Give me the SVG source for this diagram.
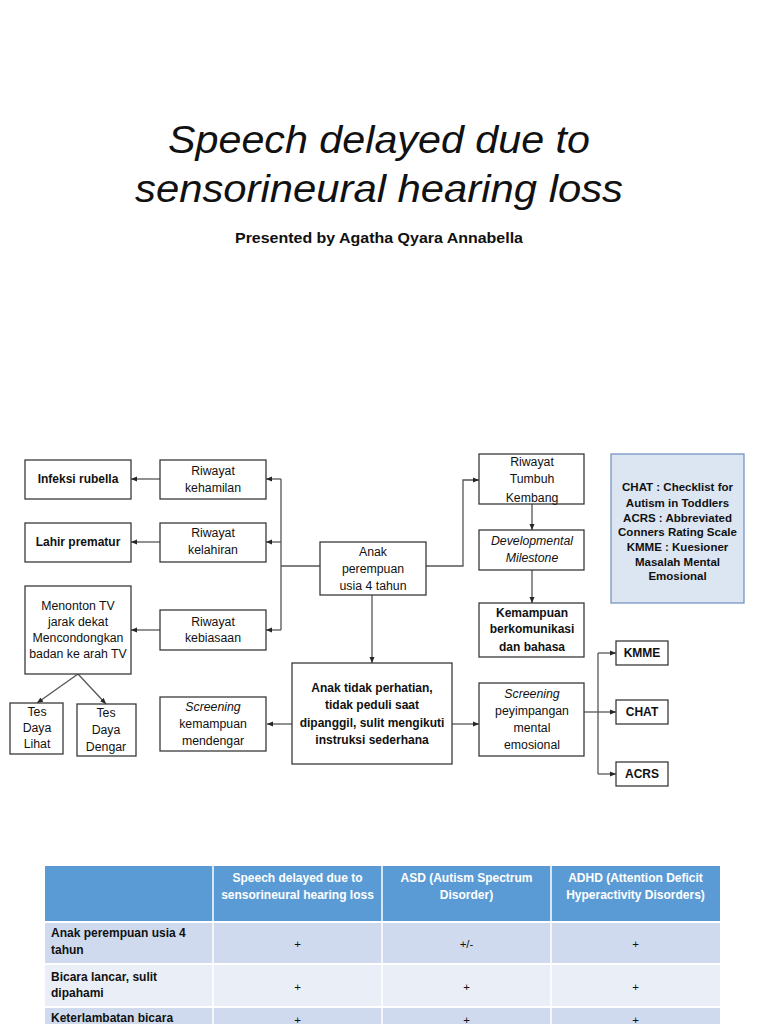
<svg xmlns="http://www.w3.org/2000/svg" width="768" height="1024" viewBox="0 0 768 1024">
<defs>
<marker id="ah" markerUnits="userSpaceOnUse" markerWidth="6" markerHeight="6" viewBox="0 0 6 6" refX="6" refY="3" orient="auto">
<path d="M0,0.5 L6,3 L0,5.5 Z" fill="#262626"/>
</marker>
<style>
.bx{fill:#fff;stroke:#3a3a3a;stroke-width:1.3}
.t{font-family:"Liberation Sans",Arial,sans-serif;font-size:12.3px;fill:#111;text-anchor:middle}
.b{font-weight:bold;font-size:12px}
.i{font-style:italic}
.ln{fill:none;stroke:#555;stroke-width:1.3}
.ar{fill:none;stroke:#555;stroke-width:1.3;marker-end:url(#ah)}
.th{font-family:"Liberation Sans",Arial,sans-serif;font-size:12px;font-weight:bold;fill:#fff;text-anchor:middle}
.td{font-family:"Liberation Sans",Arial,sans-serif;font-size:12px;font-weight:bold;fill:#111}
.tc{font-family:"Liberation Sans",Arial,sans-serif;font-size:11.5px;fill:#111;text-anchor:middle}
.lg{font-family:"Liberation Sans",Arial,sans-serif;font-size:11.5px;font-weight:bold;fill:#111;text-anchor:middle}
</style>
</defs>
<rect width="768" height="1024" fill="#fff"/>

<g id="title">
<text x="379" y="153" font-family="'Liberation Sans',Arial,sans-serif" font-size="39" font-style="italic" fill="#111" text-anchor="middle" textLength="422" lengthAdjust="spacingAndGlyphs">Speech delayed due to</text>
<text x="379" y="202" font-family="'Liberation Sans',Arial,sans-serif" font-size="39" font-style="italic" fill="#111" text-anchor="middle" textLength="488" lengthAdjust="spacingAndGlyphs">sensorineural hearing loss</text>
<text x="379" y="243" font-family="'Liberation Sans',Arial,sans-serif" font-size="15" font-weight="bold" fill="#111" text-anchor="middle" textLength="288" lengthAdjust="spacingAndGlyphs">Presented by Agatha Qyara Annabella</text>
</g>

<g id="connectors">
<path class="ln" d="M320 566 H281 M281 479 V630"/>
<path class="ar" d="M281 479 H266"/>
<path class="ar" d="M281 542 H266"/>
<path class="ar" d="M281 630 H266"/>
<path class="ar" d="M160 479 H131"/>
<path class="ar" d="M160 542 H131"/>
<path class="ar" d="M160 630 H131"/>
<path class="ar" d="M78 674 L37 703"/>
<path class="ar" d="M78 674 L106 704"/>
<path class="ar" d="M426 566 H463 V480 H479"/>
<path class="ar" d="M532 504 V530"/>
<path class="ar" d="M532 570 V603"/>
<path class="ar" d="M372 595 V663"/>
<path class="ar" d="M292 724 H267"/>
<path class="ar" d="M452 724 H479"/>
<path class="ar" d="M584 712 H616"/>
<path class="ln" d="M598 653 V774"/>
<path class="ar" d="M598 653 H616"/>
<path class="ar" d="M598 774 H616"/>
</g>

<g id="infeksi"><rect class="bx" x="25" y="460" width="106" height="39"/><text class="t b" x="78" y="483">Infeksi rubella</text></g>
<g id="kehamilan"><rect class="bx" x="160" y="460" width="106" height="39"/><text class="t" x="213" y="475">Riwayat</text><text class="t" x="213" y="492">kehamilan</text></g>
<g id="prematur"><rect class="bx" x="25" y="523" width="106" height="39"/><text class="t b" x="78" y="546">Lahir prematur</text></g>
<g id="kelahiran"><rect class="bx" x="160" y="523" width="106" height="39"/><text class="t" x="213" y="537">Riwayat</text><text class="t" x="213" y="554">kelahiran</text></g>
<g id="menonton"><rect class="bx" x="25" y="586" width="106" height="88"/>
<text class="t" font-size="10.7" x="78" y="610">Menonton TV</text><text class="t" font-size="10.7" x="78" y="626">jarak dekat</text><text class="t" font-size="10.7" x="78" y="642">Mencondongkan</text><text class="t" font-size="10.7" x="78" y="658">badan ke arah TV</text></g>
<g id="kebiasaan"><rect class="bx" x="160" y="610" width="106" height="40"/><text class="t" x="213" y="626">Riwayat</text><text class="t" x="213" y="642">kebiasaan</text></g>
<g id="lihat"><rect class="bx" x="10" y="703" width="53" height="51"/><text class="t" font-size="10.5" x="37" y="716">Tes</text><text class="t" font-size="10.5" x="37" y="732">Daya</text><text class="t" font-size="10.5" x="37" y="748">Lihat</text></g>
<g id="dengar"><rect class="bx" x="77" y="704" width="59" height="52"/><text class="t" font-size="12.5" x="106" y="717">Tes</text><text class="t" font-size="12.5" x="106" y="734">Daya</text><text class="t" font-size="12.5" x="106" y="751">Dengar</text></g>
<g id="screening1"><rect class="bx" x="160" y="697" width="106" height="54"/><text class="t i" x="213" y="711">Screening</text><text class="t" x="213" y="728">kemampuan</text><text class="t" x="213" y="745">mendengar</text></g>

<g id="anak"><rect class="bx" x="320" y="542" width="106" height="53"/><text class="t" x="373" y="556">Anak</text><text class="t" x="373" y="573">perempuan</text><text class="t" x="373" y="590">usia 4 tahun</text></g>
<g id="perhatian"><rect class="bx" x="292" y="663" width="160" height="101"/>
<text class="t b" x="372" y="692">Anak tidak perhatian,</text><text class="t b" x="372" y="709">tidak peduli saat</text><text class="t b" x="372" y="727">dipanggil, sulit mengikuti</text><text class="t b" x="372" y="744">instruksi sederhana</text></g>

<g id="tumbuh"><rect class="bx" x="479" y="454" width="105" height="50"/><text class="t" x="532" y="466">Riwayat</text><text class="t" x="532" y="483">Tumbuh</text><text class="t" x="532" y="502">Kembang</text></g>
<g id="milestone"><rect class="bx" x="479" y="530" width="105" height="40"/><text class="t i" x="532" y="545">Developmental</text><text class="t i" x="532" y="562">Milestone</text></g>
<g id="kemampuan"><rect class="bx" x="479" y="603" width="105" height="54"/><text class="t b" x="532" y="617">Kemampuan</text><text class="t b" x="532" y="633">berkomunikasi</text><text class="t b" x="532" y="651">dan bahasa</text></g>
<g id="screening2"><rect class="bx" x="479" y="683" width="105" height="73"/><text class="t i" x="532" y="698">Screening</text><text class="t" x="532" y="715">peyimpangan</text><text class="t" x="532" y="732">mental</text><text class="t" x="532" y="749">emosional</text></g>

<g id="kmme"><rect class="bx" x="616" y="641" width="52" height="24"/><text class="t b" x="642" y="657">KMME</text></g>
<g id="chat"><rect class="bx" x="616" y="700" width="52" height="24"/><text class="t b" x="642" y="716">CHAT</text></g>
<g id="acrs"><rect class="bx" x="616" y="762" width="52" height="24"/><text class="t b" x="642" y="778">ACRS</text></g>

<g id="legend"><rect x="611" y="454" width="133" height="149" fill="#DCE6F2" stroke="#6D8EBF" stroke-width="1.2"/>
<text class="lg" x="677.5" y="491">CHAT : Checklist  for</text>
<text class="lg" x="677.5" y="507">Autism in Toddlers</text>
<text class="lg" x="677.5" y="522">ACRS : Abbreviated</text>
<text class="lg" x="677.5" y="536">Conners Rating Scale</text>
<text class="lg" x="677.5" y="551">KMME : Kuesioner</text>
<text class="lg" x="677.5" y="566">Masalah Mental</text>
<text class="lg" x="677.5" y="580">Emosional</text></g>

<g id="table">
<rect x="45" y="866" width="675" height="55" fill="#5B9BD5"/>
<rect x="45" y="923" width="675" height="40" fill="#CFDAEE"/>
<rect x="45" y="965" width="675" height="41" fill="#E9EEF7"/>
<rect x="45" y="1008" width="675" height="16" fill="#CFDAEE"/>
<path d="M213 866 V1024 M382 866 V1024 M551 866 V1024" stroke="#fff" stroke-width="1.5"/>
<text class="th" x="297.5" y="882">Speech delayed due to</text>
<text class="th" x="297.5" y="899">sensorineural hearing loss</text>
<text class="th" x="466.5" y="882">ASD (Autism Spectrum</text>
<text class="th" x="466.5" y="899">Disorder)</text>
<text class="th" x="635.5" y="882">ADHD (Attention Deficit</text>
<text class="th" x="635.5" y="899">Hyperactivity Disorders)</text>
<text class="td" x="51" y="937">Anak perempuan usia 4</text>
<text class="td" x="51" y="954">tahun</text>
<text class="tc" x="297.5" y="948">+</text><text class="tc" x="466.5" y="948">+/-</text><text class="tc" x="635.5" y="948">+</text>
<text class="td" x="51" y="981">Bicara lancar, sulit</text>
<text class="td" x="51" y="997">dipahami</text>
<text class="tc" x="297.5" y="991">+</text><text class="tc" x="466.5" y="991">+</text><text class="tc" x="635.5" y="991">+</text>
<text class="td" x="51" y="1022">Keterlambatan bicara</text>
<text class="tc" x="297.5" y="1024">+</text><text class="tc" x="466.5" y="1024">+</text><text class="tc" x="635.5" y="1024">+</text>
</g>
</svg>
